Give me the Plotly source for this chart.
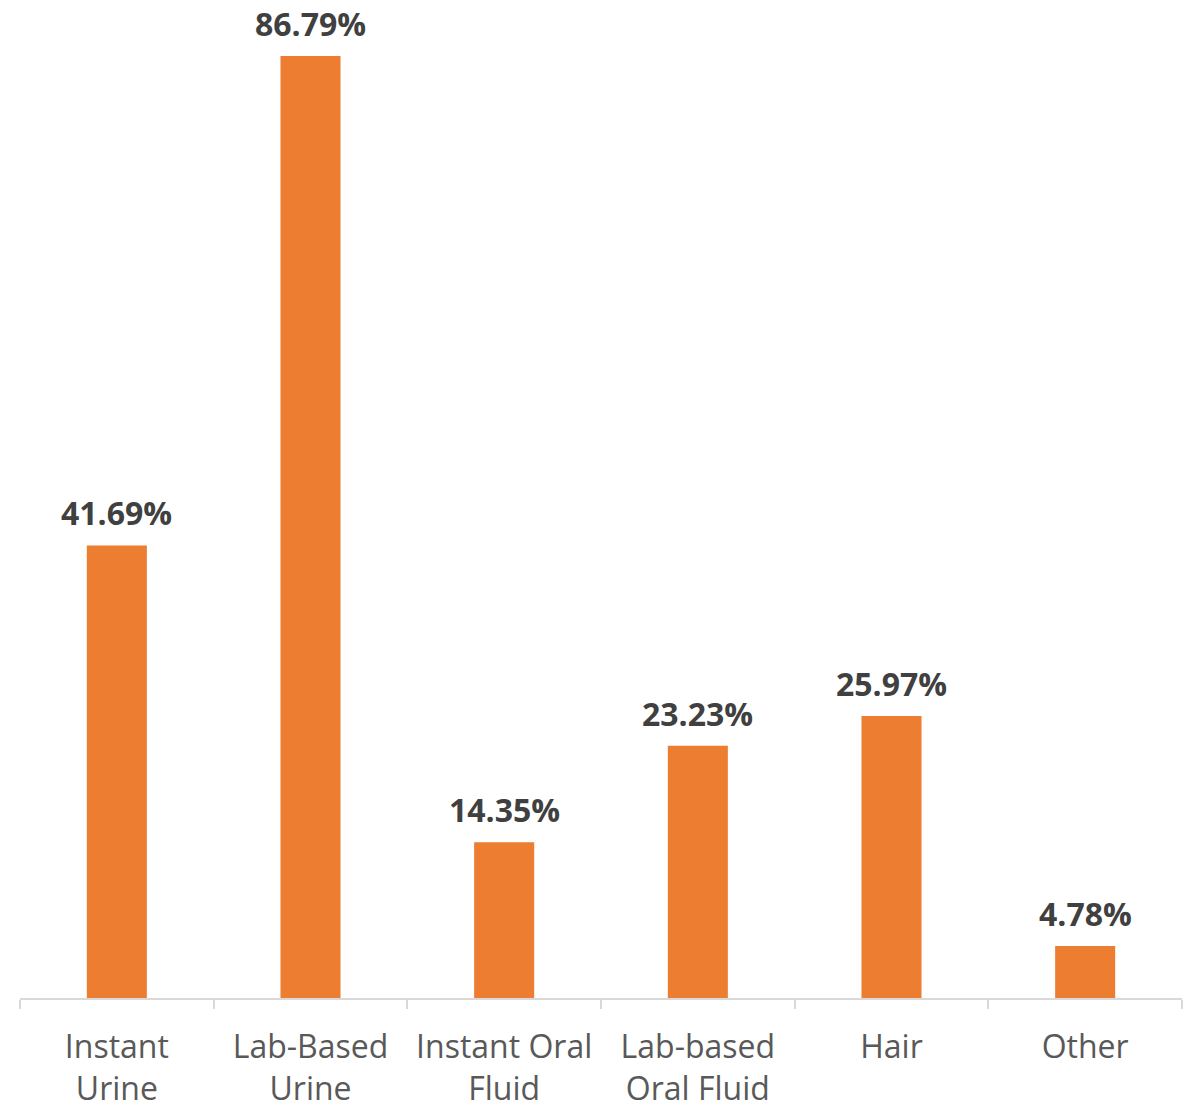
import plotly.graph_objects as go

categories = ["Instant<br>Urine", "Lab-Based<br>Urine", "Instant Oral<br>Fluid",
              "Lab-based<br>Oral Fluid", "Hair", "Other"]
values = [41.69, 86.79, 14.35, 23.23, 25.97, 4.78]
labels = [f"{v:.2f}%" for v in values]

fig = go.Figure(go.Bar(
    x=categories, y=values,
    marker=dict(color="#ED7D31", line=dict(width=0)),
    cliponaxis=False, width=0.31,
))
for c, v, t in zip(categories, values, labels):
    fig.add_annotation(
        x=c, y=v, text=t, showarrow=False, yanchor="bottom", yshift=9,
        font=dict(family="Open Sans", size=32, color="#404040", weight="bold"),
    )
fig.update_layout(
    width=1183, height=1103,
    margin=dict(l=20, r=1, t=0, b=105, autoexpand=False),
    plot_bgcolor="white", paper_bgcolor="white",
    showlegend=False, bargap=0.69,
    font=dict(family="Open Sans", color="#595959"),
)
fig.update_xaxes(
    showline=True, linecolor="#D9D9D9", linewidth=2,
    ticks="outside", tickson="boundaries", ticklen=9, tickcolor="#D9D9D9", tickwidth=2,
    tickfont=dict(family="Open Sans", size=32, color="#595959"),
    ticklabelstandoff=20,
    showgrid=False, automargin=False,
)
fig.update_yaxes(range=[0, 91.94], visible=False, showgrid=False, automargin=False)
fig.write_html(
    "out.html",
    config={"displayModeBar": False},
    post_script="document.body.style.margin='0';document.body.style.overflow='hidden';",
)
